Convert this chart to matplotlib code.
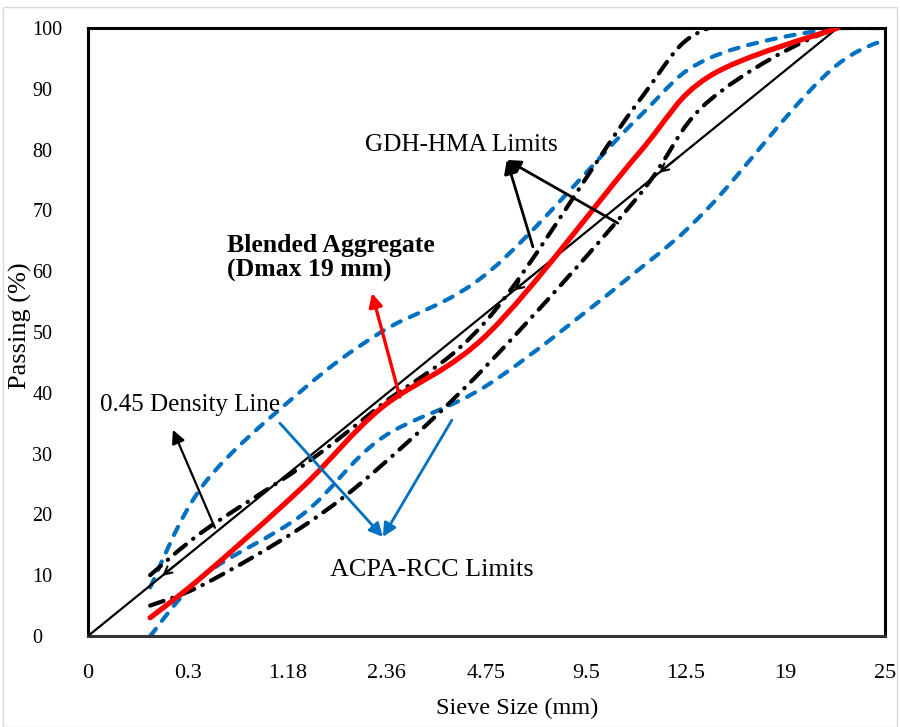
import numpy as np
import matplotlib.pyplot as plt
from matplotlib.path import Path
from matplotlib.patches import PathPatch, Rectangle

plt.rcParams['font.family'] = ['Liberation Serif', 'DejaVu Serif']

# sieve sizes (mm) and the 0.45 power scale used on the x axis
sieves = [0.075, 0.3, 1.18, 2.36, 4.75, 9.5, 12.5, 19, 25]
tick_labels = ['0', '0.3', '1.18', '2.36', '4.75', '9.5', '12.5', '19', '25']

blended = [3, 10, 24.5, 37.5, 50, 79, 92, 100]          # up to 19 mm
acpa_upper = [8, 25, 40.5, 50, 60, 85, 95, 100, 100]
acpa_lower = [0, 10, 20, 32.5, 41.5, 60, 70.5, 94, 100]
gdh_upper = [10, 17.3, 28, 38, 52.5, 87.5, 100, 100, 100]
gdh_lower = [5, 8.5, 18, 28, 45, 72, 88, 100, 100]
density_size = [0, 19]
density_pass = [0, 100]


def p45(s):
    return np.array(s, dtype=float) ** 0.45


def smooth_path(x, y):
    # Excel-like smoothed line: Catmull-Rom segments as cubic Bezier curves
    pts = np.column_stack([x, y])
    n = len(pts)
    verts = [pts[0]]
    codes = [Path.MOVETO]
    for i in range(n - 1):
        p0 = pts[max(i - 1, 0)]
        p1 = pts[i]
        p2 = pts[i + 1]
        p3 = pts[min(i + 2, n - 1)]
        c1 = p1 + (p2 - p0) / 6
        c2 = p2 - (p3 - p1) / 6
        verts += [c1, c2, p2]
        codes += [Path.CURVE4] * 3
    return Path(verts, codes)


def add_curve(ax, x, y, **kw):
    patch = PathPatch(smooth_path(x, y), fill=False, **kw)
    ax.add_patch(patch)
    return patch


fig = plt.figure(figsize=(9, 7.27), dpi=100)
ax = fig.add_axes([0.0978, 0.1252, 0.8855, 0.8363])

blue = '#0070C0'
xs = p45(sieves)

add_curve(ax, xs, acpa_upper, edgecolor=blue, linewidth=3, linestyle=(0, (2.2, 2.4)), capstyle='round')
add_curve(ax, xs, acpa_lower, edgecolor=blue, linewidth=3, linestyle=(0, (2.2, 2.4)), capstyle='round')
add_curve(ax, xs, gdh_upper, edgecolor='black', linewidth=3, linestyle=(0, (3.4, 2.2, 0.1, 2.2)), capstyle='round')
add_curve(ax, xs, gdh_lower, edgecolor='black', linewidth=3, linestyle=(0, (3.4, 2.2, 0.1, 2.2)), capstyle='round')
ax.plot(p45(density_size), density_pass, color='black', linewidth=1.6, zorder=3)
add_curve(ax, xs[:len(blended)], blended, edgecolor='red', linewidth=3.8, capstyle='round', zorder=4)

# small arrowheads on the density line
for xa in [0.361, 2.127, 2.855]:
    ya = xa / p45(19) * 100
    ax.annotate('', xy=(xa, ya), xytext=(xa + 0.12, ya + 0.12 / p45(19) * 100),
                arrowprops=dict(arrowstyle='->', color='black', lw=1.5, mutation_scale=14))

# annotations
def arrow(ax, head, tail, color, lw=2):
    ax.annotate('', xy=head, xytext=tail,
                arrowprops=dict(arrowstyle='-|>', color=color, lw=lw, mutation_scale=20,
                                shrinkA=0, shrinkB=0), zorder=6)

arrow(ax, (2.102, 78.3), (2.233, 64.0), 'black')
arrow(ax, (2.102, 78.3), (2.659, 67.9), 'black')
arrow(ax, (0.426, 33.9), (0.637, 17.8), 'black', lw=1.6)
arrow(ax, (1.425, 56.4), (1.565, 39.3), 'red', lw=2.4)
arrow(ax, (1.480, 16.3), (0.963, 35.0), blue)
arrow(ax, (1.480, 16.3), (1.826, 35.5), blue)

ax.text(1.39, 80.8, 'GDH-HMA Limits', fontsize=18.2, va='center', ha='left')
ax.text(0.70, 62.2, 'Blended Aggregate\n(Dmax 19 mm)', fontsize=18.5, fontweight='bold',
        va='center', ha='left', linespacing=1.1)
ax.text(0.06, 38.0, '0.45 Density Line', fontsize=18, va='center', ha='left')
ax.text(1.214, 10.9, 'ACPA-RCC Limits', fontsize=18.8, va='center', ha='left')

ax.set_xlim(0, 4)
ax.set_ylim(0, 100)
ax.set_xticks(np.arange(0, 4.01, 0.5))
ax.set_xticklabels(tick_labels)
ax.set_yticks(range(0, 101, 10))
ax.tick_params(axis='both', length=0)
ax.tick_params(axis='x', pad=20, labelsize=16)
ax.tick_params(axis='y', pad=40, labelsize=14.5)
for lab in ax.get_yticklabels():
    lab.set_horizontalalignment('left')

for sp in ax.spines.values():
    sp.set_linewidth(2.2)
    sp.set_color('black')
ax.spines['bottom'].set_color('#333333')

ax.set_xlabel('Sieve Size (mm)', fontsize=17.5)
ax.set_ylabel('Passing (%)', fontsize=19)
ax.xaxis.set_label_coords(0.538, -0.102)
ax.yaxis.set_label_coords(-0.07, 0.51)

fig.patches.append(Rectangle((0.003, 0.0), 0.994, 0.99, transform=fig.transFigure,
                             fill=False, edgecolor='#d9d9d9', linewidth=1))

fig.savefig('out.png', dpi=100)
